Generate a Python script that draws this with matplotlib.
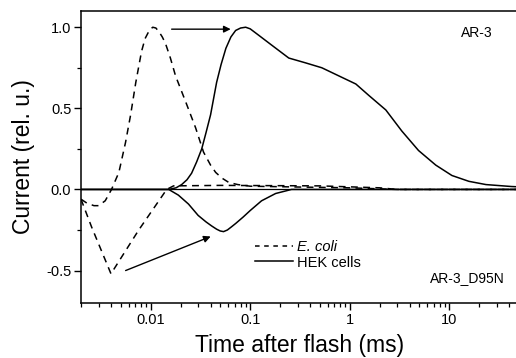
import matplotlib
matplotlib.use("Agg")
import matplotlib.pyplot as plt
from matplotlib.ticker import FixedLocator, FuncFormatter, LogLocator, NullFormatter, MultipleLocator
from matplotlib.lines import Line2D

plt.rcParams['font.family'] = ['Liberation Sans', 'DejaVu Sans']

# AR-3, E. coli (dashed)
ar3_ecoli_t = [0.002, 0.0023, 0.0027, 0.003, 0.0035, 0.00405, 0.0048, 0.0056, 0.0063, 0.0071, 0.0081,
               0.0088, 0.0097, 0.0105, 0.0113, 0.0122, 0.0131, 0.0141, 0.0158, 0.0178, 0.0225, 0.0283,
               0.034, 0.040, 0.045, 0.052, 0.061, 0.075, 0.1, 0.3, 1.0, 3.0, 50]
ar3_ecoli_v = [-0.06, -0.085, -0.10, -0.10, -0.07, 0.0, 0.105, 0.29, 0.46, 0.66, 0.85,
               0.93, 0.98, 1.0, 0.995, 0.97, 0.94, 0.90, 0.81, 0.70, 0.54, 0.38,
               0.23, 0.15, 0.105, 0.07, 0.043, 0.03, 0.02, 0.015, 0.01, 0.0, 0.0]

# AR-3_D95N, E. coli (dashed)
d95n_ecoli_t = [0.002, 0.00255, 0.004, 0.0076, 0.0145, 0.017, 0.05, 0.5, 2.0, 3.0, 50]
d95n_ecoli_v = [-0.06, -0.23, -0.52, -0.25, 0.0, 0.022, 0.025, 0.022, 0.01, 0.0, 0.0]

# AR-3, HEK cells (solid)
ar3_hek_t = [0.002, 0.0152, 0.018, 0.0205, 0.0232, 0.0258, 0.029, 0.0326, 0.036, 0.040, 0.046, 0.051,
             0.057, 0.064, 0.0714, 0.080, 0.090, 0.100, 0.122, 0.164, 0.244,
             0.361, 0.524, 0.776, 1.15, 1.55, 2.3, 3.33, 4.9, 7.3, 10.6, 15.7, 23.3, 42, 50]
ar3_hek_v = [0.0, 0.0, 0.01, 0.03, 0.06, 0.10, 0.17, 0.25, 0.35, 0.46, 0.66, 0.77,
             0.87, 0.94, 0.98, 0.995, 1.0, 0.99, 0.95, 0.89, 0.81,
             0.78, 0.75, 0.70, 0.65, 0.58, 0.49, 0.36, 0.24, 0.15, 0.086, 0.05, 0.03, 0.018, 0.016]

# AR-3_D95N, HEK cells (solid)
d95n_hek_t = [0.002, 0.0152, 0.019, 0.024, 0.030, 0.036, 0.041, 0.046, 0.050, 0.054, 0.059, 0.065,
              0.0714, 0.085, 0.1, 0.13, 0.18, 0.26, 50]
d95n_hek_v = [0.0, 0.0, -0.035, -0.09, -0.16, -0.20, -0.225, -0.245, -0.256, -0.26, -0.25, -0.23,
              -0.21, -0.17, -0.13, -0.07, -0.025, 0.0, 0.0]

x_ticks = [0.01, 0.1, 1, 10]
x_labels = ["0.01", "0.1", "1", "10"]
y_ticks = [-0.5, 0.0, 0.5, 1.0]

fig = plt.figure(figsize=(5.16, 3.58), dpi=100)
ax = fig.add_axes([81/516, 55/358, 438/516, 292/358])

dash = (0, (4.5, 3.5))
ax.axhline(0, color='black', lw=0.9, zorder=1)
ax.plot(ar3_ecoli_t, ar3_ecoli_v, color='black', lw=1.1, linestyle=dash)
ax.plot(d95n_ecoli_t, d95n_ecoli_v, color='black', lw=1.1, linestyle=dash)
ax.plot(ar3_hek_t, ar3_hek_v, color='black', lw=1.1)
ax.plot(d95n_hek_t, d95n_hek_v, color='black', lw=1.1)

ax.set_xscale('log')
ax.set_xlim(0.002, 50)
ax.set_ylim(-0.7, 1.1)

ax.xaxis.set_major_locator(FixedLocator(x_ticks))
ax.xaxis.set_major_formatter(FuncFormatter(lambda v, p: x_labels[x_ticks.index(v)] if v in x_ticks else ""))
ax.xaxis.set_minor_locator(LogLocator(base=10, subs=range(2, 10), numticks=20))
ax.xaxis.set_minor_formatter(NullFormatter())
ax.yaxis.set_major_locator(FixedLocator(y_ticks))
ax.yaxis.set_major_formatter(FuncFormatter(lambda v, p: f"{v:.1f}".replace("\u2212", "-")))
ax.yaxis.set_minor_locator(MultipleLocator(0.25))

ax.tick_params(which='major', direction='out', length=5, width=1.0, labelsize=10.5, pad=2)
ax.tick_params(which='minor', direction='out', length=3, width=0.9)
ax.tick_params(top=False, right=False, which='both')
for s in ax.spines.values():
    s.set_linewidth(1.1)

ax.set_xlabel("Time after flash (ms)", fontsize=16.5, labelpad=5)
ax.set_ylabel("Current (rel. u.)", fontsize=16.5, labelpad=8)

# arrows
ax.annotate("", xy=(0.0637, 0.988), xytext=(0.01626, 0.988),
            arrowprops=dict(arrowstyle='-|>', color='black', lw=1.0, mutation_scale=10, shrinkA=0, shrinkB=0))
ax.annotate("", xy=(0.0401, -0.29), xytext=(0.00561, -0.5),
            arrowprops=dict(arrowstyle='-|>', color='black', lw=1.0, mutation_scale=10, shrinkA=0, shrinkB=0))

ax.text(0.94, 0.925, "AR-3", transform=ax.transAxes, ha='right', va='center', fontsize=10)
ax.text(0.968, 0.086, "AR-3_D95N", transform=ax.transAxes, ha='right', va='center', fontsize=10)

handles = [Line2D([], [], color='black', lw=1.1, linestyle=(0, (3, 3))),
           Line2D([], [], color='black', lw=1.1)]
leg = ax.legend(handles, ["E. coli", "HEK cells"], loc='center left',
                bbox_to_anchor=(0.38, 0.165), frameon=False, fontsize=10.5,
                handlelength=2.6, handletextpad=0.3, labelspacing=0.1, borderpad=0)
leg.get_texts()[0].set_fontstyle('italic')

fig.savefig("out.png", dpi=100)
